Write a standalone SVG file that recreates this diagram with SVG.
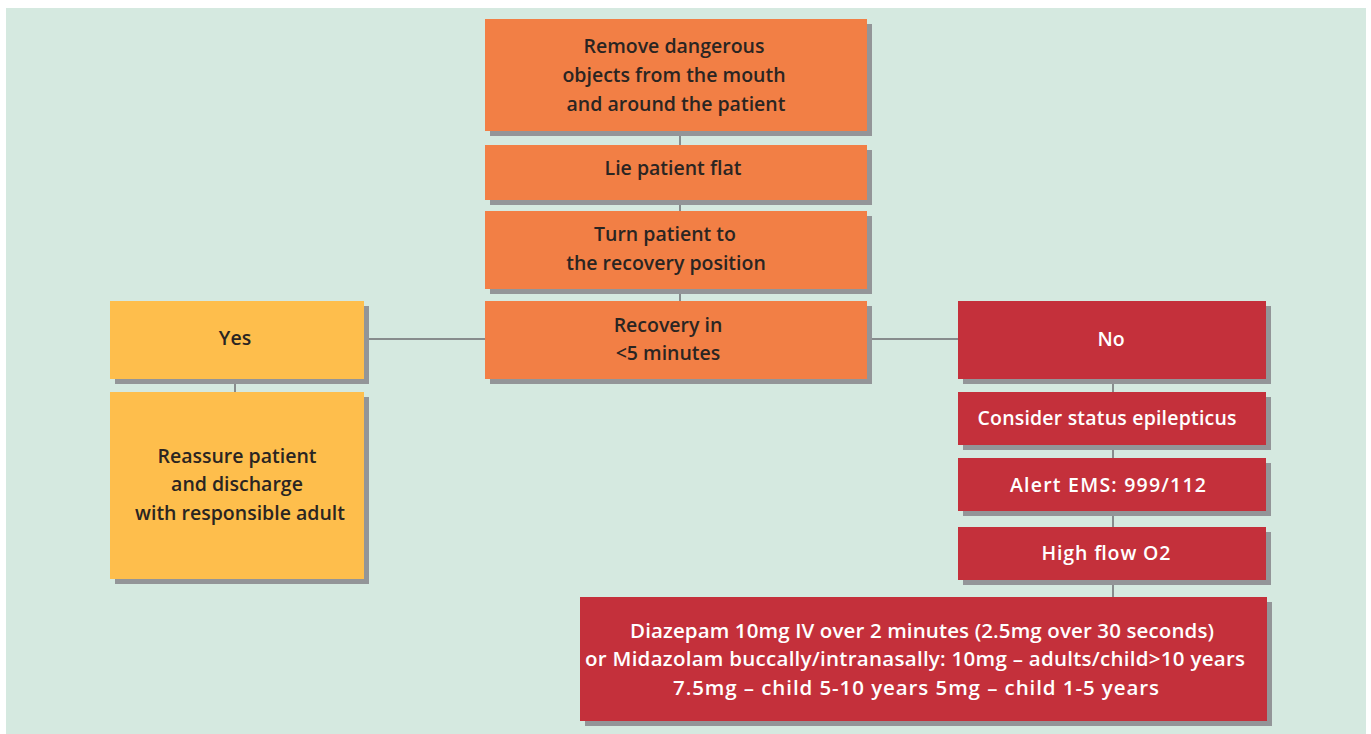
<svg xmlns="http://www.w3.org/2000/svg" width="1371" height="734" viewBox="0 0 1371 734">
<style>
.sh{fill:#939598}
.o{fill:#F27F45}
.y{fill:#FEBE4C}
.r{fill:#C4303B}
.t{font-family:"Open Sans","Noto Sans","Liberation Sans",sans-serif;font-weight:600;font-size:19.5px;text-anchor:middle;fill:#2a2522}
.w{fill:#ffffff}
.d{font-size:20.5px}
.c{stroke:#6d6e71;stroke-width:1.5;fill:none}
</style>
<rect x="0" y="0" width="1371" height="734" fill="#ffffff"/>
<rect x="6" y="8" width="1360" height="726" fill="#D5E9E0"/>
<g id="connectors">
<path class="c" d="M680 131V145M680 200V211M680 289V301M364 339H485M867 339H958M235 379V392M1113 379V392M1113 445V458M1113 511V527M1113 580V597"/>
</g>
<g id="n1"><rect class="sh" x="490" y="24" width="382" height="112"/><rect class="o" x="485" y="19" width="382" height="112"/>
<text class="t" x="674" y="53">Remove dangerous</text><text class="t" x="674" y="82">objects from the mouth</text><text class="t" x="676" y="111">and around the patient</text></g>
<g id="n2"><rect class="sh" x="490" y="150" width="382" height="55"/><rect class="o" x="485" y="145" width="382" height="55"/>
<text class="t" x="673" y="175">Lie patient flat</text></g>
<g id="n3"><rect class="sh" x="490" y="216" width="382" height="78"/><rect class="o" x="485" y="211" width="382" height="78"/>
<text class="t" x="665" y="241">Turn patient to</text><text class="t" x="666" y="270">the recovery position</text></g>
<g id="n4"><rect class="sh" x="490" y="306" width="382" height="78"/><rect class="o" x="485" y="301" width="382" height="78"/>
<text class="t" x="668" y="332">Recovery in</text><text class="t" x="668" y="360">&lt;5 minutes</text></g>
<g id="yes"><rect class="sh" x="115" y="306" width="254" height="78"/><rect class="y" x="110" y="301" width="254" height="78"/>
<text class="t" x="235" y="345">Yes</text></g>
<g id="reassure"><rect class="sh" x="115" y="397" width="254" height="187"/><rect class="y" x="110" y="392" width="254" height="187"/>
<text class="t" x="237" y="463">Reassure patient</text><text class="t" x="237" y="491">and discharge</text><text class="t" x="240" y="520">with responsible adult</text></g>
<g id="no"><rect class="sh" x="963" y="306" width="308" height="78"/><rect class="r" x="958" y="301" width="308" height="78"/>
<text class="t w" x="1111" y="346">No</text></g>
<g id="consider"><rect class="sh" x="963" y="397" width="308" height="53"/><rect class="r" x="958" y="392" width="308" height="53"/>
<text class="t w" x="1107" y="425" textLength="259" lengthAdjust="spacing">Consider status epilepticus</text></g>
<g id="alert"><rect class="sh" x="963" y="463" width="308" height="53"/><rect class="r" x="958" y="458" width="308" height="53"/>
<text class="t w" x="1108" y="492" textLength="196" lengthAdjust="spacing">Alert EMS: 999/112</text></g>
<g id="o2"><rect class="sh" x="963" y="532" width="308" height="53"/><rect class="r" x="958" y="527" width="308" height="53"/>
<text class="t w" x="1106" y="560" textLength="129" lengthAdjust="spacing">High flow O2</text></g>
<g id="drugs"><rect class="sh" x="585" y="602" width="687" height="124"/><rect class="r" x="580" y="597" width="687" height="124"/>
<text class="t w d" x="922" y="638" textLength="584" lengthAdjust="spacing">Diazepam 10mg IV over 2 minutes (2.5mg over 30 seconds)</text><text class="t w d" x="915" y="666" textLength="660" lengthAdjust="spacing">or Midazolam buccally/intranasally: 10mg – adults/child&gt;10 years</text><text class="t w d" x="916" y="695" textLength="486" lengthAdjust="spacing">7.5mg – child 5-10 years 5mg – child 1-5 years</text></g>
</svg>
